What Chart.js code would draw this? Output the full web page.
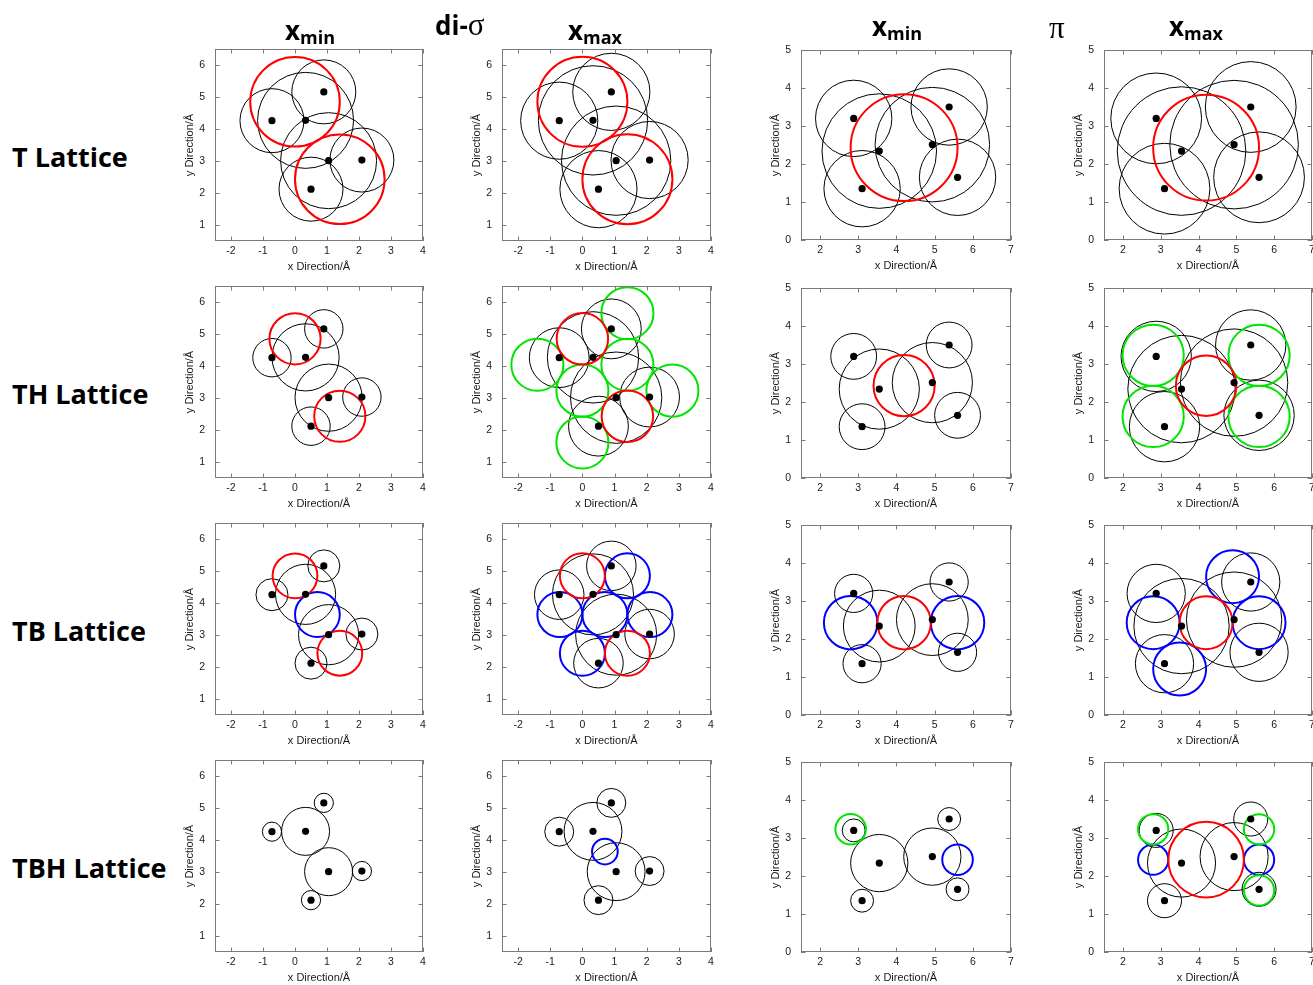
<!DOCTYPE html>
<html>
<head>
<meta charset="utf-8">
<script src="https://cdn.jsdelivr.net/npm/chart.js@4.4.1/dist/chart.umd.min.js"></script>
<style>
  html, body { margin: 0; padding: 0; background: #fff; }
  #fig { position: relative; width: 1313px; height: 985px; overflow: hidden; background: #fff; }
  #fig canvas { position: absolute; }
  .lbl { position: absolute; font-family: "Open Sans", "Noto Sans", sans-serif; font-weight: 700;
         color: #000; white-space: nowrap; line-height: 1; }
  .row { font-size: 27px; }
  .hdr { font-size: 26px; }
  .hdr .sub { font-size: 18px; position: relative; top: 4px; }
  .greek { font-family: "Liberation Serif", "DejaVu Serif", serif; font-weight: 400; font-size: 31px; }
</style>
</head>
<body>
<div id="fig"></div>
<script>
// ---- axes ----
const DISIGMA_X_RANGE = [-2.5, 4];
const DISIGMA_Y_RANGE = [0.5, 6.5];
const DISIGMA_X_TICKS = [-2, -1, 0, 1, 2, 3, 4];
const DISIGMA_Y_TICKS = [1, 2, 3, 4, 5, 6];
const PI_X_RANGE = [1.5, 7];
const PI_Y_RANGE = [0, 5];
const PI_X_TICKS = [2, 3, 4, 5, 6, 7];
const PI_Y_TICKS = [0, 1, 2, 3, 4, 5];

const LATTICES = ['T Lattice', 'TH Lattice', 'TB Lattice', 'TBH Lattice'];

// ---- adsorbate atom centres (Å) ----
const DISIGMA_ATOM_X = [-0.72, 0.33, 0.90, 1.05, 2.09, 0.50];
const DISIGMA_ATOM_Y = [4.26, 4.27, 5.16, 3.01, 3.03, 2.12];
const DISIGMA_INNER = [false, true, false, true, false, false];
const PI_ATOM_X = [2.88, 3.55, 3.10, 5.38, 4.94, 5.60];
const PI_ATOM_Y = [3.20, 2.34, 1.35, 3.50, 2.51, 1.65];
const PI_INNER = [false, true, false, false, true, false];

// ---- atom radii for each lattice (Å) ----
const OUTER_R_XMIN = [1.0, 0.6, 0.5, 0.3];
const INNER_R_XMIN = [1.5, 1.05, 0.94, 0.75];
const OUTER_R_XMAX = [1.2, 0.93, 0.77, 0.45];
const INNER_R_XMAX = [1.7, 1.42, 1.26, 0.9];

// ---- surface sites (Å) ----
const DISIGMA_TOP_X = [0, 1.4];
const DISIGMA_TOP_Y = [4.85, 2.43];
const DISIGMA_HOLLOW_X = [1.4, -1.4, 1.4, 0, 2.8, 0];
const DISIGMA_HOLLOW_Y = [5.65, 4.04, 4.04, 3.23, 3.23, 1.61];
const DISIGMA_BRIDGE_X = [1.4, -0.7, 0.7, 2.1, 0];
const DISIGMA_BRIDGE_Y = [4.85, 3.64, 3.64, 3.64, 2.43];
const PI_TOP_X = [4.2];
const PI_TOP_Y = [2.43];
const PI_HOLLOW_X = [2.8, 2.8, 5.6, 5.6];
const PI_HOLLOW_Y = [3.23, 1.62, 3.23, 1.62];
const PI_BRIDGE_X = [2.8, 5.6, 4.9, 3.5];
const PI_BRIDGE_Y = [2.43, 2.43, 3.64, 1.21];

// site radii for each lattice (Å)
const TOP_R = [1.4, 0.8, 0.7, 1.0];
const HOLLOW_R = [0, 0.81, 0, 0.4];
const BRIDGE_R = [0, 0, 0.7, 0.4];

// sites shown in each panel: [lattice][di-σ xmin, di-σ xmax, π xmin, π xmax]
const SHOWN_SITES = [
  [{top: [0, 1]}, {top: [0, 1]}, {top: [0]}, {top: [0]}],
  [{top: [0, 1]}, {top: [0, 1], hollow: [0, 1, 2, 3, 4, 5]}, {top: [0]}, {top: [0], hollow: [0, 1, 2, 3]}],
  [{top: [0, 1], bridge: [2]}, {top: [0, 1], bridge: [0, 1, 2, 3, 4]}, {top: [0], bridge: [0, 1]}, {top: [0], bridge: [0, 1, 2, 3]}],
  [{}, {bridge: [2]}, {hollow: [0], bridge: [1]}, {top: [0], hollow: [0, 2, 3], bridge: [0, 1]}]
];

// ---- page layout ----
const COL_LEFT = [215, 502, 801, 1104];
const COL_WIDTH = [208, 209, 210, 208];
const ROW_TOP_DISIGMA = [49, 286, 523, 760];
const ROW_TOP_PI = [50, 288, 525, 762];
const PLOT_H_DISIGMA = 192;
const PLOT_H_PI = 190;
const Y_AXIS_W = 40, X_AXIS_H = 34, PAD_TOP = 20, PAD_RIGHT = 12;

const SITE_COLORS = { top: '#ff0000', hollow: '#00e400', bridge: '#0000ff' };
const FRAME_COLOR = '#7a7a7a';
const TEXT_COLOR = '#1a1a1a';
const FONT = '"Liberation Sans", Arial, Helvetica, sans-serif';

Chart.defaults.font.family = FONT;

function unitPx(chart) {
  const s = chart.scales.x;
  return Math.abs(s.getPixelForValue(1) - s.getPixelForValue(0));
}

// border box and inward tick marks on all four sides
const framePlugin = {
  id: 'frame',
  afterDatasetsDraw(chart) {
    const { ctx, chartArea: a, scales: { x, y } } = chart;
    const T = 4.5;
    ctx.save();
    ctx.strokeStyle = FRAME_COLOR;
    ctx.lineWidth = 1;
    ctx.beginPath();
    x.ticks.forEach(t => {
      const px = Math.round(x.getPixelForValue(t.value)) + 0.5;
      ctx.moveTo(px, a.bottom); ctx.lineTo(px, a.bottom - T);
      ctx.moveTo(px, a.top); ctx.lineTo(px, a.top + T);
    });
    y.ticks.forEach(t => {
      const py = Math.round(y.getPixelForValue(t.value)) + 0.5;
      ctx.moveTo(a.left, py); ctx.lineTo(a.left + T, py);
      ctx.moveTo(a.right, py); ctx.lineTo(a.right - T, py);
    });
    ctx.stroke();
    ctx.strokeRect(Math.round(a.left) + 0.5, Math.round(a.top) + 0.5,
                   Math.round(a.right - a.left) - 1, Math.round(a.bottom - a.top) - 1);
    ctx.restore();
  }
};

function circleDataset(points, color, width) {
  return {
    type: 'scatter',
    data: points,
    pointStyle: 'circle',
    pointRadius: c => (c.raw ? c.raw.r * unitPx(c.chart) : 0),
    pointBackgroundColor: 'rgba(0,0,0,0)',
    pointBorderColor: color,
    pointBorderWidth: width,
    showLine: false
  };
}

function axis(range, ticks, title, vertical) {
  return {
    type: 'linear',
    min: range[0],
    max: range[1],
    afterBuildTicks: s => { s.ticks = ticks.map(v => ({ value: v })); },
    afterFit: s => { if (vertical) s.width = Y_AXIS_W; else s.height = X_AXIS_H; },
    ticks: {
      autoSkip: false, maxRotation: 0, padding: vertical ? 10 : 4,
      color: TEXT_COLOR, font: { size: 10.5 },
      callback: v => String(v)
    },
    grid: { display: false, drawTicks: false },
    border: { display: false },
    title: {
      display: true, text: title, color: TEXT_COLOR, font: { size: 11 },
      padding: vertical ? { top: 8, bottom: 0 } : { top: 0, bottom: 1 }
    }
  };
}

const fig = document.getElementById('fig');

function makePanel(row, col) {
  const isPi = col >= 2;
  const isMax = col % 2 === 1;
  const atomX = isPi ? PI_ATOM_X : DISIGMA_ATOM_X;
  const atomY = isPi ? PI_ATOM_Y : DISIGMA_ATOM_Y;
  const inner = isPi ? PI_INNER : DISIGMA_INNER;
  const rOut = (isMax ? OUTER_R_XMAX : OUTER_R_XMIN)[row];
  const rIn = (isMax ? INNER_R_XMAX : INNER_R_XMIN)[row];

  const sites = {
    top: { x: isPi ? PI_TOP_X : DISIGMA_TOP_X, y: isPi ? PI_TOP_Y : DISIGMA_TOP_Y, r: TOP_R[row] },
    hollow: { x: isPi ? PI_HOLLOW_X : DISIGMA_HOLLOW_X, y: isPi ? PI_HOLLOW_Y : DISIGMA_HOLLOW_Y, r: HOLLOW_R[row] },
    bridge: { x: isPi ? PI_BRIDGE_X : DISIGMA_BRIDGE_X, y: isPi ? PI_BRIDGE_Y : DISIGMA_BRIDGE_Y, r: BRIDGE_R[row] }
  };

  const datasets = [];
  // atom centres, drawn on top
  datasets.push({
    type: 'scatter',
    data: atomX.map((x, i) => ({ x, y: atomY[i] })),
    pointRadius: 3.6,
    pointBackgroundColor: '#000',
    pointBorderWidth: 0
  });
  const shown = SHOWN_SITES[row][col];
  ['top', 'hollow', 'bridge'].forEach(kind => {
    if (!shown[kind]) return;
    const s = sites[kind];
    datasets.push(circleDataset(shown[kind].map(i => ({ x: s.x[i], y: s.y[i], r: s.r })), SITE_COLORS[kind], 2));
  });
  // atom size circles
  datasets.push(circleDataset(atomX.map((x, i) => ({ x, y: atomY[i], r: inner[i] ? rIn : rOut })), '#000', 1));

  const plotW = COL_WIDTH[col];
  const plotH = isPi ? PLOT_H_PI : PLOT_H_DISIGMA;
  const top = (isPi ? ROW_TOP_PI : ROW_TOP_DISIGMA)[row];
  const canvas = document.createElement('canvas');
  const cw = plotW + Y_AXIS_W + PAD_RIGHT;
  const ch = plotH + PAD_TOP + X_AXIS_H;
  canvas.width = cw; canvas.height = ch;
  canvas.style.width = cw + 'px'; canvas.style.height = ch + 'px';
  canvas.style.left = (COL_LEFT[col] - Y_AXIS_W) + 'px';
  canvas.style.top = (top - PAD_TOP) + 'px';
  fig.appendChild(canvas);

  new Chart(canvas, {
    type: 'scatter',
    data: { datasets },
    options: {
      responsive: false,
      animation: false,
      events: [],
      layout: { padding: { top: PAD_TOP, right: PAD_RIGHT, left: 0, bottom: 0 } },
      plugins: { legend: { display: false }, tooltip: { enabled: false } },
      scales: {
        x: axis(isPi ? PI_X_RANGE : DISIGMA_X_RANGE, isPi ? PI_X_TICKS : DISIGMA_X_TICKS, 'x Direction/Å', false),
        y: axis(isPi ? PI_Y_RANGE : DISIGMA_Y_RANGE, isPi ? PI_Y_TICKS : DISIGMA_Y_TICKS, 'y Direction/Å', true)
      }
    },
    plugins: [framePlugin]
  });
}

for (let r = 0; r < 4; r++) for (let c = 0; c < 4; c++) makePanel(r, c);

// ---- text labels ----
function addLabel(html, cls, left, top) {
  const d = document.createElement('div');
  d.className = 'lbl ' + cls;
  d.innerHTML = html;
  d.style.left = left + 'px';
  d.style.top = top + 'px';
  fig.appendChild(d);
}
const ROW_LABEL_TOP = [143, 380, 617, 854];
LATTICES.forEach((t, i) => addLabel(t, 'row', 12, ROW_LABEL_TOP[i]));

addLabel('x<span class="sub">min</span>', 'hdr', 285, 17);
addLabel('di-<span class="greek">σ</span>', 'hdr', 435, 9);
addLabel('x<span class="sub">max</span>', 'hdr', 568, 17);
addLabel('x<span class="sub">min</span>', 'hdr', 872, 13);
addLabel('<span class="greek">π</span>', 'hdr', 1049, 12);
addLabel('x<span class="sub">max</span>', 'hdr', 1169, 13);
</script>
</body>
</html>
